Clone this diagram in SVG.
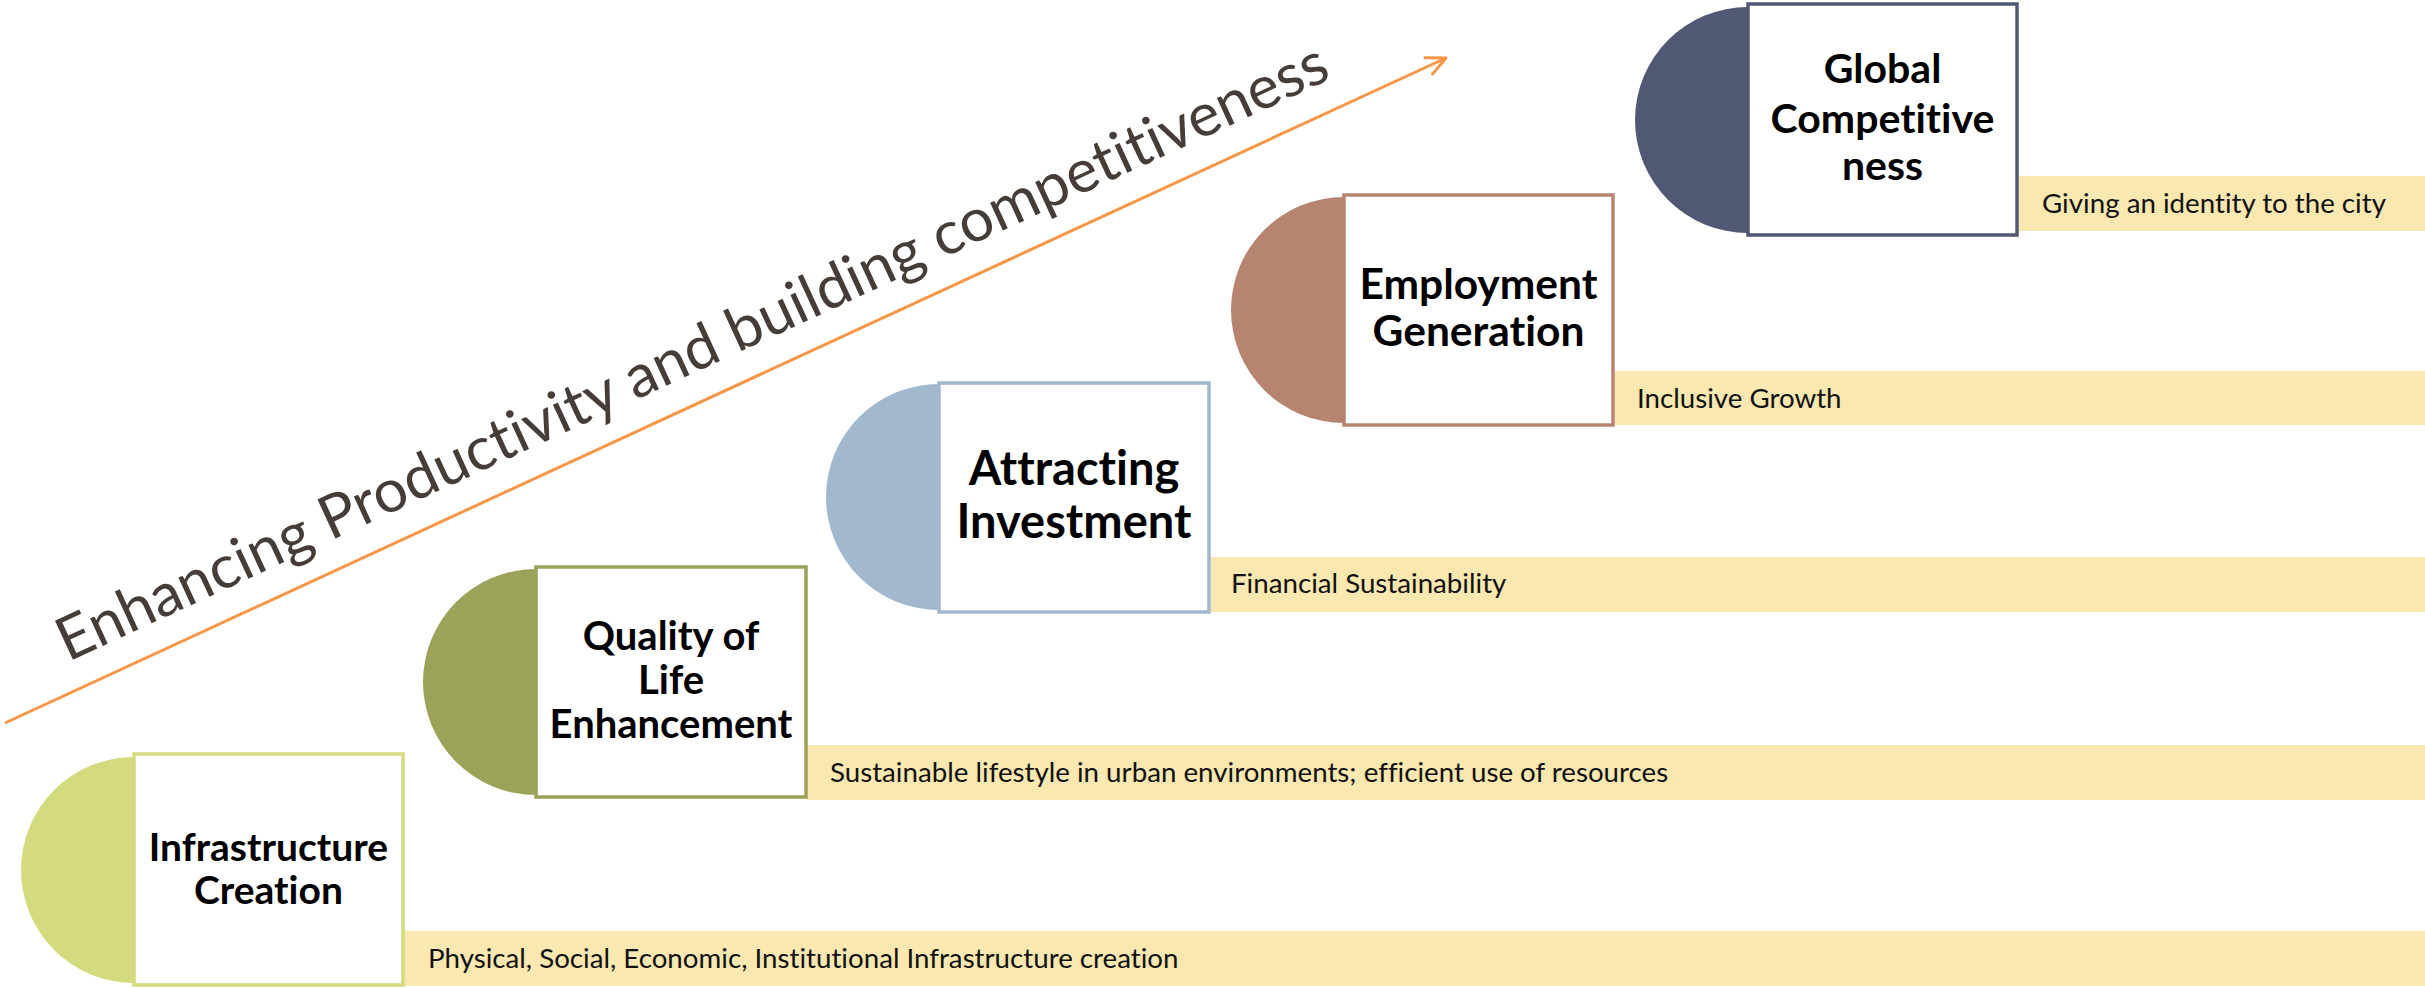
<svg xmlns="http://www.w3.org/2000/svg" width="2425" height="988" viewBox="0 0 2425 988">
<defs>
<style>
text{font-variant-ligatures:none;font-feature-settings:"liga" 0,"dlig" 0}
.box{fill:#ffffff;stroke-width:3.5}
.band{fill:#FBE7B0}
.title{font-family:Lato,"Open Sans","Liberation Sans",sans-serif;font-weight:bold;fill:#000;text-anchor:middle}
.note{font-family:Lato,"Open Sans","Liberation Sans",sans-serif;font-size:27.7px;fill:#111}
.diag{font-family:Lato,"Open Sans","Liberation Sans",sans-serif;font-size:60px;fill:#463C38}
</style>
<marker id="arr" viewBox="0 0 24 24" refX="22" refY="12" markerWidth="24" markerHeight="24" markerUnits="userSpaceOnUse" orient="auto">
<path d="M3,3 L22,12 L3,21" fill="none" stroke="#F79646" stroke-width="3" stroke-linecap="round" stroke-linejoin="round"/>
</marker>
</defs>
<rect width="2425" height="988" fill="#ffffff"/>

<g id="connectors">
<line x1="5" y1="723" x2="1446" y2="58" stroke="#F79646" stroke-width="3" marker-end="url(#arr)"/>
</g>
<text class="diag" transform="translate(68,662) rotate(-24.78)" textLength="1393" lengthAdjust="spacingAndGlyphs">Enhancing Productivity and building competitiveness</text>

<g id="node-infrastructure">
<rect class="band" x="404" y="931" width="2021" height="55"/>
<text class="note" x="428" y="968">Physical, Social, Economic, Institutional Infrastructure creation</text>
<path d="M134,757 A113,113 0 0 0 134,983 Z" fill="#D4DA7E"/>
<rect class="box" x="134" y="754" width="269" height="231" stroke="#D4DA7E"/>
<text class="title" font-size="39" x="268.5" y="861">Infrastructure</text>
<text class="title" font-size="39" x="268.5" y="904">Creation</text>
</g>

<g id="node-quality">
<rect class="band" x="807" y="745" width="1618" height="55"/>
<text class="note" x="830" y="782">Sustainable lifestyle in urban environments; efficient use of resources</text>
<path d="M536,569 A113,113 0 0 0 536,795 Z" fill="#9CA259"/>
<rect class="box" x="536" y="567" width="270" height="230" stroke="#9CA259"/>
<text class="title" font-size="40" x="671" y="650">Quality of</text>
<text class="title" font-size="40" x="671" y="694">Life</text>
<text class="title" font-size="40" x="671" y="738">Enhancement</text>
</g>

<g id="node-investment">
<rect class="band" x="1210" y="557" width="1215" height="55"/>
<text class="note" x="1231" y="593">Financial Sustainability</text>
<path d="M939,384 A113,113 0 0 0 939,610 Z" fill="#A2B8CF"/>
<rect class="box" x="939" y="383" width="270" height="229" stroke="#A2B8CF"/>
<text class="title" font-size="47" x="1074" y="485">Attracting</text>
<text class="title" font-size="47" x="1074" y="538">Investment</text>
</g>

<g id="node-employment">
<rect class="band" x="1615" y="371" width="810" height="54"/>
<text class="note" x="1637" y="408">Inclusive Growth</text>
<path d="M1344,197 A113,113 0 0 0 1344,423 Z" fill="#B78471"/>
<rect class="box" x="1344" y="195" width="269" height="230" stroke="#B78471"/>
<text class="title" font-size="42.5" x="1478.5" y="299">Employment</text>
<text class="title" font-size="42.5" x="1478.5" y="346">Generation</text>
</g>

<g id="node-global">
<rect class="band" x="2019" y="176" width="406" height="55"/>
<text class="note" x="2042" y="213">Giving an identity to the city</text>
<path d="M1748,7 A113,113 0 0 0 1748,233 Z" fill="#515873"/>
<rect class="box" x="1748" y="4" width="269" height="231" stroke="#515873"/>
<text class="title" font-size="41" x="1882.5" y="83">Global</text>
<text class="title" font-size="41" x="1882.5" y="133">Competitive</text>
<text class="title" font-size="41" x="1882.5" y="180">ness</text>
</g>
</svg>
